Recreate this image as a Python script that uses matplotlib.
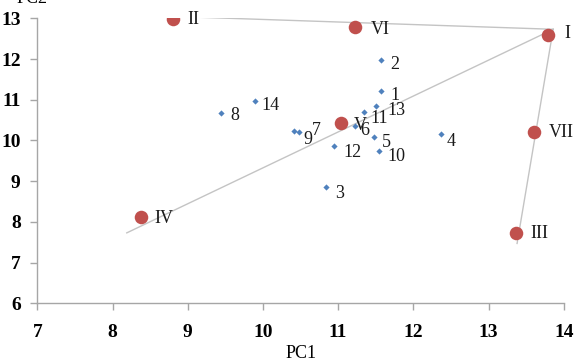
import matplotlib
matplotlib.use("Agg")
import matplotlib.pyplot as plt

# Group points (red circles)
group_labels = ["I", "II", "III", "IV", "V", "VI", "VII"]
group_pc1 = [13.79, 8.80, 13.36, 8.38, 11.04, 11.22, 13.61]
group_pc2 = [12.59, 12.98, 7.73, 8.13, 10.42, 12.78, 10.21]

# Sample points (blue diamonds)
sample_labels = ["1", "2", "3", "4", "5", "6", "7", "8", "9", "10", "11", "12", "13", "14"]
sample_pc1 = [11.57, 11.57, 10.84, 12.37, 11.48, 11.22, 10.48, 9.44, 10.41, 11.54, 11.35, 10.95, 11.51, 9.89]
sample_pc2 = [11.22, 11.98, 8.85, 10.15, 10.08, 10.36, 10.21, 10.68, 10.24, 9.73, 10.70, 9.86, 10.85, 10.97]

# Gray lines (start/end points)
line_a_x = [8.59, 13.86]
line_a_y = [13.06, 12.73]
line_b_x = [13.86, 13.38]
line_b_y = [12.73, 7.47]
line_c_x = [8.19, 13.86]
line_c_y = [7.73, 12.73]

xticks = [7, 8, 9, 10, 11, 12, 13, 14]
yticks = [6, 7, 8, 9, 10, 11, 12, 13]

# label offsets in pixels (dx right, dy down)
group_off = {"I": (16, -1), "II": (15, 0), "III": (15, 1), "IV": (13, 2),
             "V": (13, 2), "VI": (16, 2), "VII": (14, 1)}
sample_off = {"1": (9, 5), "2": (9, 5), "3": (9, 6), "4": (6, 7), "5": (8, 5),
              "6": (6, 5), "7": (13, -1), "8": (10, 3), "9": (10, 9), "10": (9, 5),
              "11": (6, 7), "12": (9, 6), "13": (11, 5), "14": (7, 5)}

plt.rcParams['font.family'] = ['Liberation Serif', 'DejaVu Serif']

dpi = 100
fig = plt.figure(figsize=(5.83, 3.62), dpi=dpi)
W, H = 583, 362
left, right, top, bottom = 37.3, 563.7, 18.3, 303.3
ax = fig.add_axes([left / W, 1 - bottom / H, (right - left) / W, (bottom - top) / H])

gray = "#c4c4c4"
ax.plot(line_a_x, line_a_y, color=gray, lw=1.0, zorder=1)
ax.plot(line_b_x, line_b_y, color=gray, lw=1.0, zorder=1)
ax.plot(line_c_x, line_c_y, color=gray, lw=1.0, zorder=1)

ax.scatter(sample_pc1, sample_pc2, marker="D", s=10, color="#4f81bd", zorder=2, linewidths=0)
ax.scatter(group_pc1, group_pc2, marker="o", s=95, color="#c0504d", zorder=3, linewidths=0)

px2pt = 72.0 / dpi
for lab, x, y in zip(group_labels, group_pc1, group_pc2):
    dx, dy = group_off[lab]
    ax.annotate(lab, (x, y), xytext=(dx * px2pt, -dy * px2pt), textcoords="offset points",
                ha="left", va="center", fontsize=13, color="#1a1a1a", zorder=4)
for lab, x, y in zip(sample_labels, sample_pc1, sample_pc2):
    dx, dy = sample_off[lab]
    ax.annotate(lab, (x, y), xytext=(dx * px2pt, -dy * px2pt), textcoords="offset points",
                ha="left", va="center", fontsize=13, color="#1a1a1a", zorder=4)

ax.set_xlim(7, 14)
ax.set_ylim(6, 13)
ax.set_xticks(xticks)
ax.set_yticks(yticks)
ax.set_xticklabels([str(t) for t in xticks], fontsize=14, fontweight="bold")
ax.set_yticklabels([str(t) for t in yticks], fontsize=14, fontweight="bold")
for s in ["top", "right"]:
    ax.spines[s].set_visible(False)
for s in ["left", "bottom"]:
    ax.spines[s].set_color("#a6a6a6")
    ax.spines[s].set_linewidth(1.0)
ax.tick_params(axis="both", direction="out", length=5, color="#a6a6a6", width=1.0)
ax.tick_params(axis="x", pad=10)
ax.tick_params(axis="y", pad=7)

fig.text(301 / W, 1 - 358 / H, "PC1", ha="center", va="baseline", fontsize=13)
fig.text(32 / W, 1 - 3 / H, "PC2", ha="center", va="baseline", fontsize=13)

fig.savefig("out.png", dpi=dpi)
